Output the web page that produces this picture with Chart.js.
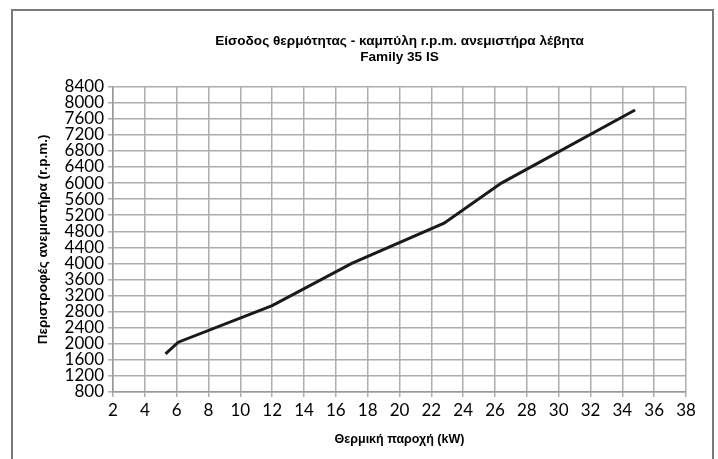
<!DOCTYPE html>
<html>
<head>
<meta charset="utf-8">
<script src="https://cdn.jsdelivr.net/npm/chart.js@4.4.1/dist/chart.umd.min.js"></script>
<style>
  html, body { margin: 0; padding: 0; background: #fff; }
  #wrap { position: relative; width: 718px; height: 459px; }
  #frame {
    position: absolute; left: 11px; top: 9px; width: 703px; height: 460px;
    border: 2px solid #7a7a7a; border-bottom: none; box-sizing: border-box;
  }
  canvas { position: absolute; left: 0; top: 0; }
</style>
</head>
<body>
<div id="wrap">
  <div id="frame"></div>
  <canvas id="fanChart" width="718" height="459"></canvas>
</div>
<script>
Chart.defaults.color = '#000';

// heat input (kW) vs fan speed (r.p.m.)
let power_kw = [5.3, 6.1, 12, 17, 22.8, 26.4, 34.8]
let fan_rpm = [1750, 2040, 2950, 4000, 5000, 6000, 7820]

let x_ticks = [2, 4, 6, 8, 10, 12, 14, 16, 18, 20, 22, 24, 26, 28, 30, 32, 34, 36, 38]
let y_ticks = [800, 1200, 1600, 2000, 2400, 2800, 3200, 3600, 4000, 4400,
  4800, 5200, 5600, 6000, 6400, 6800, 7200, 7600, 8000, 8400]

let title_lines = ['Είσοδος θερμότητας - καμπύλη r.p.m. ανεμιστήρα λέβητα', 'Family 35 IS']

let points = []
for (let i = 0; i < power_kw.length; i++) {
  points.push({x: power_kw[i], y: fan_rpm[i]})
}

const narrow = "'Liberation Sans Narrow', 'Arial Narrow', 'Liberation Sans', sans-serif"
const tickFont = {family: 'Lato', size: 17}

const ctx = document.getElementById('fanChart').getContext('2d');

var fanChart = new Chart(ctx, {
  type: 'line',
  data: {
    datasets: [{
      label: 'r.p.m.',
      data: points,
      borderColor: '#1a1a1a',
      borderWidth: 3,
      pointRadius: 0,
      tension: 0,
      fill: false
    }]
  },
  options: {
    responsive: false,
    animation: false,
    layout: {padding: {left: 20, right: 32, top: 33, bottom: 12}},
    plugins: {
      legend: {display: false},
      tooltip: {enabled: false},
      title: {
        display: true,
        text: title_lines,
        fullSize: false,
        font: {family: narrow, size: 13.6, weight: 'bold'},
        lineHeight: 1.45,
        padding: {top: 0, bottom: 21}
      }
    },
    scales: {
      x: {
        type: 'linear',
        min: 2,
        max: 38,
        afterBuildTicks: (scale) => { scale.ticks = x_ticks.map(v => ({value: v})) },
        afterFit: (scale) => { scale.height = 55 },
        ticks: {font: tickFont, padding: 3, autoSkip: false, maxRotation: 0,
          callback: (v) => String(v)},
        grid: {color: '#adadad', lineWidth: 1.5, tickLength: 5},
        border: {color: '#999', width: 1.5},
        title: {
          display: true,
          text: 'Θερμική παροχή (kW)',
          font: {family: narrow, size: 12.5, weight: 'bold'},
          padding: {top: 9, bottom: 0}
        }
      },
      y: {
        type: 'linear',
        min: 800,
        max: 8400,
        afterBuildTicks: (scale) => { scale.ticks = y_ticks.map(v => ({value: v})) },
        afterFit: (scale) => { scale.width = 93 },
        ticks: {font: tickFont, padding: 4, autoSkip: false,
          callback: (v) => String(v)},
        grid: {color: '#adadad', lineWidth: 1.5, tickLength: 5},
        border: {color: '#999', width: 1.5},
        title: {
          display: true,
          text: 'Περιστροφές ανεμιστήρα (r.p.m.)',
          font: {family: narrow, size: 13.5, weight: 'bold'},
          padding: {top: 15, bottom: 4}
        }
      }
    }
  }
});
</script>
</body>
</html>
